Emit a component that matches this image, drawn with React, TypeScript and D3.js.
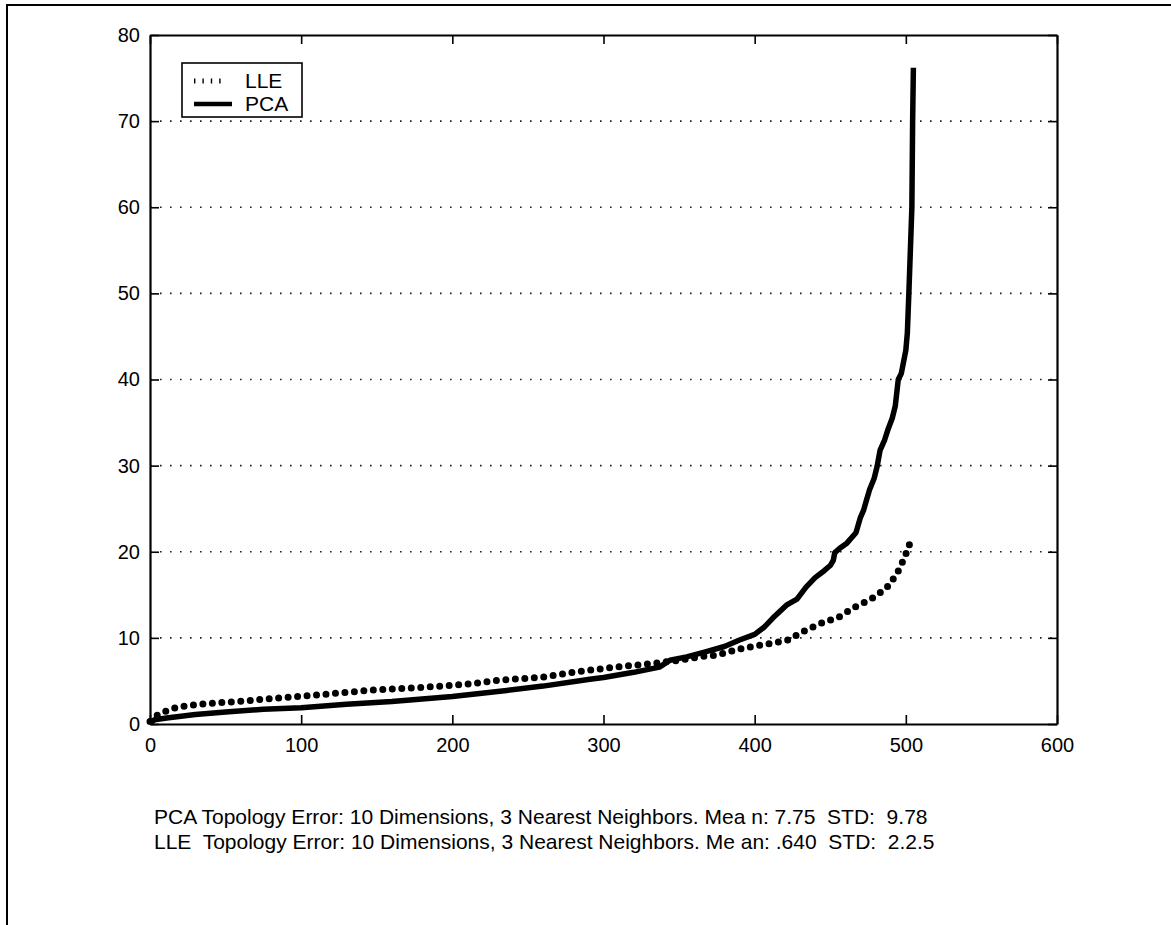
import React, { useEffect, useRef } from "react"
import * as d3 from "d3"

// sorted topology error per sample
const pcaIndex = [0, 3, 11, 30, 50, 75, 100, 130, 160, 200, 236, 260, 291, 300, 320, 337, 344, 355, 368, 380, 390, 400, 406, 412, 421, 428, 434, 440, 446, 450, 452, 453, 457, 461, 467, 470, 472, 474, 476, 479, 481, 483, 486, 488, 491, 493, 495, 497, 500, 501, 502, 503, 504, 504.5, 505];
const pcaError = [0.1, 0.5, 0.7, 1.1, 1.4, 1.7, 1.9, 2.3, 2.6, 3.2, 3.9, 4.4, 5.2, 5.4, 6.0, 6.6, 7.4, 7.8, 8.4, 9.0, 9.75, 10.4, 11.2, 12.3, 13.8, 14.5, 15.9, 17.0, 17.8, 18.4, 19.0, 19.9, 20.5, 21.0, 22.2, 24.0, 24.8, 26.0, 27.2, 28.5, 29.9, 31.8, 33.0, 34.1, 35.5, 36.9, 40.0, 40.7, 43.4, 45.4, 50.0, 55.0, 60.0, 70.0, 76.2];

const lleIndex = [0, 5, 13, 20, 32, 57, 84, 119, 148, 176, 192, 214, 231, 258, 280, 300, 333, 350, 368, 375, 392, 412, 422, 434, 444, 456, 466, 477, 487, 494, 499, 504];
const lleError = [0.3, 1.05, 1.7, 2.0, 2.3, 2.6, 3.0, 3.5, 3.95, 4.2, 4.4, 4.7, 5.1, 5.4, 6.0, 6.45, 7.05, 7.4, 7.9, 8.0, 8.8, 9.4, 9.75, 10.9, 11.7, 12.45, 13.55, 14.5, 15.75, 17.4, 19.25, 21.6];

const xTicks = [0, 100, 200, 300, 400, 500, 600];
const yTicks = [0, 10, 20, 30, 40, 50, 60, 70, 80];
const seriesNames = ['LLE', 'PCA'];
const captionLines = [
    'PCA Topology Error: 10 Dimensions, 3 Nearest Neighbors. Mea n: 7.75  STD:  9.78',
    'LLE  Topology Error: 10 Dimensions, 3 Nearest Neighbors. Me an: .640  STD:  2.2.5',
];

const width = 1171;
const height = 925;
const font = 'Liberation Sans, Arial, Helvetica, sans-serif';

const App = () => {
    const ref = useRef(null);

    useEffect(() => {
        const svg = d3.select(ref.current);
        svg.selectAll('*').remove();

        const margin = { top: 35, right: 114, bottom: 201, left: 150 };
        const innerWidth = width - margin.left - margin.right;
        const innerHeight = height - margin.top - margin.bottom;

        // page frame (scan edge)
        svg.append('path')
            .attr('d', `M7,${height} L7,5 L${width},5`)
            .attr('fill', 'none')
            .attr('stroke', 'black')
            .attr('stroke-width', 2)

        const xScale = d3.scaleLinear().domain([0, 600]).range([0, innerWidth]);
        const yScale = d3.scaleLinear().domain([0, 80]).range([innerHeight, 0]);

        const g = svg.append('g')
            .attr('transform', `translate(${margin.left}, ${margin.top})`)

        // dotted horizontal grid
        g.selectAll('.grid')
            .data(yTicks.slice(1, -1))
            .enter().append('line')
                .attr('x1', 0)
                .attr('x2', innerWidth)
                .attr('y1', d => yScale(d))
                .attr('y2', d => yScale(d))
                .attr('stroke', '#222')
                .attr('stroke-width', 1.6)
                .attr('stroke-dasharray', '1.6 8.4')

        const xAxisG = g.append('g')
            .attr('transform', `translate(0, ${innerHeight})`)
            .call(d3.axisBottom(xScale).tickValues(xTicks).tickSize(-9).tickPadding(14).tickSizeOuter(0))
        const yAxisG = g.append('g')
            .call(d3.axisLeft(yScale).tickValues(yTicks).tickSize(-9).tickPadding(10).tickSizeOuter(0))
        const xTopG = g.append('g')
            .call(d3.axisTop(xScale).tickValues(xTicks).tickSize(-9).tickFormat(() => '').tickSizeOuter(0))
        const yRightG = g.append('g')
            .attr('transform', `translate(${innerWidth}, 0)`)
            .call(d3.axisRight(yScale).tickValues(yTicks).tickSize(-9).tickFormat(() => '').tickSizeOuter(0))

        ;[xAxisG, yAxisG, xTopG, yRightG].forEach(a => {
            a.selectAll('.domain').attr('stroke', 'black').attr('stroke-width', 2.2)
            a.selectAll('line').attr('stroke', 'black').attr('stroke-width', 1.6)
            a.selectAll('text')
                .attr('fill', 'black')
                .style('font-family', font)
                .style('font-size', '20px')
        })

        const pcaData = pcaIndex.map((x, i) => [x, pcaError[i]]);
        const lleData = lleIndex.map((x, i) => [x, lleError[i]]);

        const line = d3.line()
            .x(d => xScale(d[0]))
            .y(d => yScale(d[1]))

        g.append('path')
            .datum(lleData)
            .attr('d', line)
            .attr('fill', 'none')
            .attr('stroke', 'black')
            .attr('stroke-width', 7)
            .attr('stroke-linecap', 'round')
            .attr('stroke-dasharray', '0 9.5')

        g.append('path')
            .datum(pcaData)
            .attr('d', line)
            .attr('fill', 'none')
            .attr('stroke', 'black')
            .attr('stroke-width', 5.5)
            .attr('stroke-linejoin', 'round')

        // legend
        const legend = svg.append('g')
            .attr('transform', 'translate(182, 63)')
        legend.append('rect')
            .attr('width', 120)
            .attr('height', 54)
            .attr('fill', 'white')
            .attr('stroke', 'black')
            .attr('stroke-width', 1.6)
        legend.append('line')
            .attr('x1', 12).attr('x2', 44)
            .attr('y1', 18).attr('y2', 18)
            .attr('stroke', 'black')
            .attr('stroke-width', 5)
            .attr('stroke-dasharray', '1.4 7')
        legend.append('line')
            .attr('x1', 12).attr('x2', 50)
            .attr('y1', 41).attr('y2', 41)
            .attr('stroke', 'black')
            .attr('stroke-width', 4.5)
        legend.selectAll('.label')
            .data(seriesNames)
            .enter().append('text')
                .attr('x', 63)
                .attr('y', (d, i) => 25 + i * 23)
                .attr('fill', 'black')
                .style('font-family', font)
                .style('font-size', '21px')
                .text(d => d)

        svg.selectAll('.caption')
            .data(captionLines)
            .enter().append('text')
                .attr('x', 154)
                .attr('y', (d, i) => 824 + i * 25)
                .attr('fill', 'black')
                .attr('xml:space', 'preserve')
                .style('white-space', 'pre')
                .style('font-family', font)
                .style('font-size', '21px')
                .text(d => d)
    }, []);

    return (
        <svg ref={ref} width={width} height={height}
            style={{ position: 'absolute', left: 0, top: 0, background: 'white' }} />
    )
}

export default App;
